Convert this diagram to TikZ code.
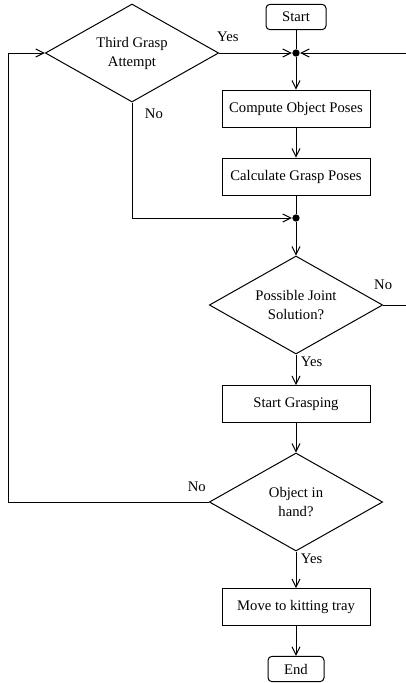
\documentclass[tikz,border=0pt]{standalone}
\usepackage{fontspec}
\setmainfont{Liberation Serif}
\usetikzlibrary{arrows.meta,shapes.geometric}

\tikzset{
  process/.style={draw, rectangle, minimum width=111pt, minimum height=27.75pt, inner sep=2pt},
  term/.style={draw, rectangle, rounded corners=3pt, minimum height=19pt, inner sep=2pt},
  decision/.style={draw, diamond, shape aspect=1.77, minimum width=130pt, minimum height=73.5pt, inner sep=1pt, align=center},
  junct/.style={circle, fill, inner sep=0pt, minimum size=5.5pt}
}

\begin{document}
\begin{tikzpicture}[x=0.75pt,y=-0.75pt,line width=0.75pt,
  >={Straight Barb[length=6pt,width=6pt]},
  font=\fontsize{11}{14.25}\selectfont]
\useasboundingbox (0,0) rectangle (406,683);
\node[term, minimum width=45pt] (0) at (296,17) {Start};
\node[junct] (9) at (296,53) {};
\node[process] (1) at (296,108.5) {Compute Object Poses};
\node[process] (2) at (296,176.5) {Calculate Grasp Poses};
\node[junct] (10) at (296,218) {};
\node[decision] (3) at (296,305) {Possible Joint\\Solution?};
\node[process] (4) at (296,404) {Start Grasping};
\node[decision] (5) at (296,502) {Object in\\hand?};
\node[process] (6) at (296,607) {Move to kitting tray};
\node[term, minimum width=42pt] (7) at (296,669) {End};
\node[decision] (8) at (132,53) {Third Grasp\\Attempt};
\coordinate (11) at (406,53);
\coordinate (12) at (406,305);
\coordinate (13) at (8,502);
\coordinate (14) at (8,53);
\coordinate (15) at (132,218);
\draw (0)--(9);
\draw [->](9)--(1);
\draw [->](1)--(2);
\draw (2)--(10);
\draw [->](10)--(3);
\draw [->](3)--(4) node[pos=0.25,right]{Yes};
\draw [->](4)--(5);
\draw [->](5)--(6) node[pos=0.2,right]{Yes};
\draw [->](6)--(7);
\draw [->](8)--(9) node[pos=0.12,above,yshift=5pt]{Yes};
\draw [->](11)--(9);
\draw [->](8)--(15) node[pos=0.1,right,xshift=6pt]{No} --(10);
\draw (3)--(12) node[pos=0,above=8pt]{No};
\draw [->](5)--(13) node[pos=0.06,above,yshift=4pt]{No} --(14)--(8);
\end{tikzpicture}
\end{document}
